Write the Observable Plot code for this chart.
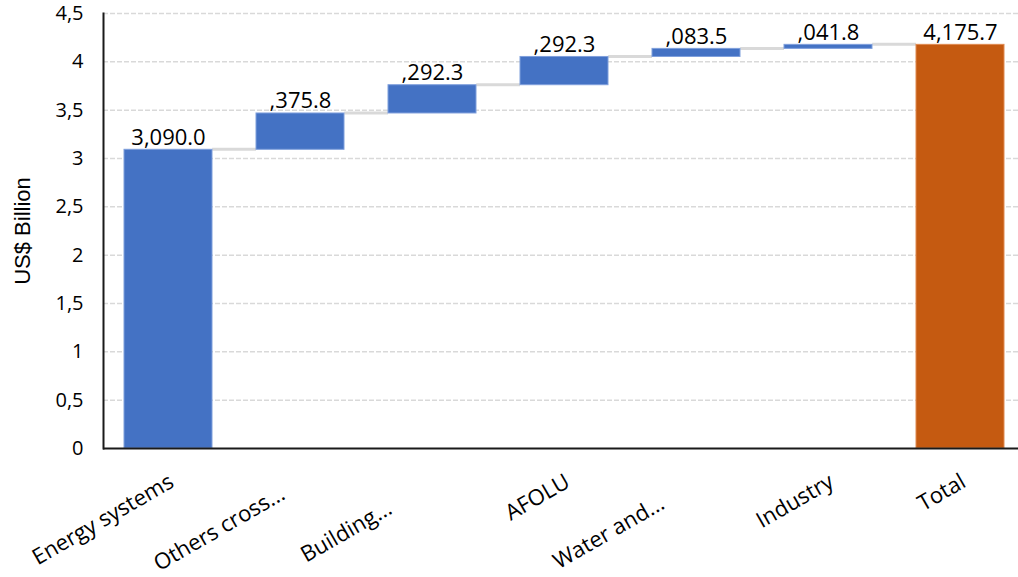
<!DOCTYPE html>
<html>
<head>
<meta charset="utf-8">
<script src="https://cdn.jsdelivr.net/npm/d3@7"></script>
<script src="https://cdn.jsdelivr.net/npm/@observablehq/plot@0.6"></script>
<style>
  html, body { margin: 0; padding: 0; background: #fff; }
  #chart { width: 1018px; height: 577px; }
</style>
</head>
<body>
<div id="chart"></div>
<script>
// ---- data ----
const categories = ["Energy systems", "Others cross...", "Building...", "AFOLU", "Water and...", "Industry", "Total"];
const values = [3.090, 0.3758, 0.2923, 0.2923, 0.0835, 0.0418, 4.1757];
const valueLabels = ["3,090.0", ",375.8", ",292.3", ",292.3", ",083.5", ",041.8", "4,175.7"];
const yTicks = [0, 0.5, 1, 1.5, 2, 2.5, 3, 3.5, 4, 4.5];
const yTickLabels = ["0", "0,5", "1", "1,5", "2", "2,5", "3", "3,5", "4", "4,5"];
const yLabel = "US$ Billion";

// ---- styling (not data) ----
const blue = "#4472C4", orange = "#C55A11";
const labelShift = {"Others cross...": 24, "Building...": 53, "Water and...": 43};
const font = "'Open Sans', 'Noto Sans', sans-serif";

// ---- build waterfall rows ----
let cum = 0;
const rows = categories.map((c, i) => {
  const isTotal = i === categories.length - 1;
  const start = isTotal ? 0 : cum;
  const end = isTotal ? values[i] : cum + values[i];
  if (!isTotal) cum = end;
  return {cat: c, start, end, label: valueLabels[i], total: isTotal};
});
const conns = rows.slice(0, -1).map((r, i) => ({a: r.cat, b: rows[i + 1].cat, y: r.end}));

const xRange = [101, 1027];
const xb = d3.scaleBand(categories, xRange).paddingInner(1/3).paddingOuter(1/6);
const bw = xb.bandwidth();

const catLabelMarks = categories.map(c => {
  const s = labelShift[c] || 0;
  return Plot.text([c], {
    x: d => d, frameAnchor: "bottom", text: d => d,
    rotate: -30, textAnchor: "end", lineAnchor: "top",
    dx: -1 - s * 0.866, dy: 24 + s * 0.5,
    fontSize: 22, fill: "#000"
  });
});

const chart = Plot.plot({
  width: 1018, height: 577,
  marginTop: 13, marginBottom: 129, marginLeft: 103, marginRight: 0,
  style: {fontFamily: font, fontSize: "20px", color: "#000", background: "#fff", overflow: "visible"},
  x: {type: "band", domain: categories, range: xRange, paddingInner: 1/3, paddingOuter: 1/6, axis: null},
  y: {domain: [0, 4.5], axis: null},
  marks: [
    Plot.ruleY(yTicks.filter(d => d > 0), {stroke: "#d9d9d9", strokeWidth: 1.5, strokeDasharray: "5,2"}),
    Plot.ruleY(conns, {
      y: "y",
      render(index, scales) {
        const g = d3.create("svg:g");
        for (const i of index) {
          const d = conns[i];
          g.append("line")
            .attr("x1", scales.x(d.a) + bw).attr("x2", scales.x(d.b))
            .attr("y1", scales.y(d.y)).attr("y2", scales.y(d.y))
            .attr("stroke", "#d9d9d9").attr("stroke-width", 3);
        }
        return g.node();
      }
    }),
    Plot.rectY(rows, {
      x: "cat", y1: "start", y2: "end",
      fill: d => d.total ? orange : blue,
      stroke: d => d.total ? "#e08a50" : "#7f9fdc", strokeWidth: 1
    }),
    Plot.text(rows, {x: "cat", y: "end", text: "label", lineAnchor: "bottom", dy: -5, fontSize: 22, fill: "#000"}),
    Plot.axisY({ticks: yTicks, tickFormat: d => yTickLabels[yTicks.indexOf(d)], tickSize: 0, tickPadding: 20, fontSize: 20, label: null}),
    Plot.ruleY([0], {stroke: "#1a1a1a", strokeWidth: 2}),
    Plot.frame({anchor: "left", stroke: "#1a1a1a", strokeWidth: 2}),
    Plot.text([yLabel], {frameAnchor: "left", text: d => d, rotate: -90, textAnchor: "middle", dx: -81, fontSize: 22, fontFamily: "'Liberation Sans', Arial, sans-serif", fill: "#000"}),
    ...catLabelMarks
  ]
});
document.getElementById("chart").appendChild(chart);
</script>
</body>
</html>
